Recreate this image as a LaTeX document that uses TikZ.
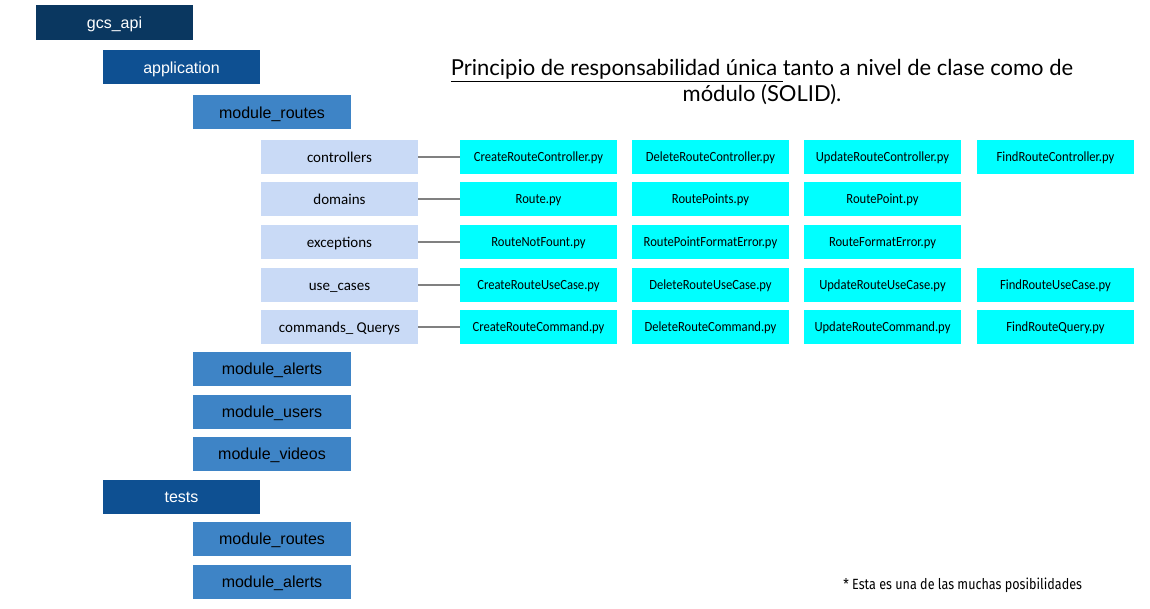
\documentclass[tikz,border=0pt]{standalone}
\usepackage{fontspec}
\setmainfont{Liberation Sans}
\newfontfamily\calfont{Carlito}
\newfontfamily\narrowcal[FakeStretch=0.9]{Carlito}
\newfontfamily\titlefont{Lato}
\newfontfamily\notefont[FakeStretch=0.85]{Fira Sans}
\usetikzlibrary{positioning}
\definecolor{navy}{RGB}{10,55,96}
\definecolor{midblue}{RGB}{14,80,146}
\definecolor{modblue}{RGB}{62,132,198}
\definecolor{paleblue}{RGB}{201,218,246}
\definecolor{filecyan}{RGB}{0,255,255}
\tikzset{
	box/.style={minimum width=117.75pt, minimum height=25.5pt, inner sep=0pt, text height=0.94em, text depth=0.06em, font=\fontsize{12}{14}\selectfont},
	rootbox/.style={box, fill=navy, text=white, minimum height=26.25pt},
	pkgbox/.style={box, fill=midblue, text=white},
	modbox/.style={box, fill=modblue, text=black, minimum width=118.5pt},
	dirbox/.style={box, fill=paleblue, font=\calfont\fontsize{11.25}{13}\selectfont},
	filebox/.style={box, fill=filecyan, text height=0.84em, text depth=0.16em, font=\narrowcal\fontsize{10.5}{12}\selectfont},
	link/.style={draw=black!50, line width=1pt}
}

\begin{document}
\begin{tikzpicture}[x=0.75pt, y=-0.75pt]
		%%%%% START %%%%%
		\useasboundingbox (0,0) rectangle (1150,609);
		
		\node[rootbox] (gcsapi) at (114.5, 22.5) {gcs\_api};
		\node[pkgbox] (application) at (181.5, 67.5) {application};
		\node[modbox] (routes) at (272, 112.5) {module\_routes};
		
		\node[dirbox] (controllers) at (339.5, 157) {controllers};
		\node[dirbox] (domains) at (339.5, 199) {domains};
		\node[dirbox] (exceptions) at (339.5, 242) {exceptions};
		\node[dirbox] (usecases) at (339.5, 285) {use\_cases};
		\node[dirbox] (commands) at (339.5, 327) {commands\_ Querys};
		
		\node[modbox] (alerts) at (272, 369) {module\_alerts};
		\node[modbox] (users) at (272, 412) {module\_users};
		\node[modbox] (videos) at (272, 454) {module\_videos};
		
		\node[pkgbox] (tests) at (181.5, 497) {tests};
		\node[modbox] (testroutes) at (272, 539) {module\_routes};
		\node[modbox] (testalerts) at (272, 582) {module\_alerts};
		
		% controllers
		\node[filebox] (ctrlcreate) at (538.5, 157) {CreateRouteController.py};
		\node[filebox] (ctrldelete) at (710.5, 157) {DeleteRouteController.py};
		\node[filebox] (ctrlupdate) at (882.5, 157) {UpdateRouteController.py};
		\node[filebox] (ctrlfind) at (1055.5, 157) {FindRouteController.py};
		
		% domains
		\node[filebox] (domroute) at (538.5, 199) {Route.py};
		\node[filebox] (dompoints) at (710.5, 199) {RoutePoints.py};
		\node[filebox] (dompoint) at (882.5, 199) {RoutePoint.py};
		
		% exceptions
		\node[filebox] (excnotfount) at (538.5, 242) {RouteNotFount.py};
		\node[filebox] (excpoint) at (710.5, 242) {RoutePointFormatError.py};
		\node[filebox] (excformat) at (882.5, 242) {RouteFormatError.py};
		
		% use cases
		\node[filebox] (uccreate) at (538.5, 285) {CreateRouteUseCase.py};
		\node[filebox] (ucdelete) at (710.5, 285) {DeleteRouteUseCase.py};
		\node[filebox] (ucupdate) at (882.5, 285) {UpdateRouteUseCase.py};
		\node[filebox] (ucfind) at (1055.5, 285) {FindRouteUseCase.py};
		
		% commands and querys
		\node[filebox] (cmdcreate) at (538.5, 327) {CreateRouteCommand.py};
		\node[filebox] (cmddelete) at (710.5, 327) {DeleteRouteCommand.py};
		\node[filebox] (cmdupdate) at (882.5, 327) {UpdateRouteCommand.py};
		\node[filebox] (qryfind) at (1055.5, 327) {FindRouteQuery.py};
		
		\draw[link] (controllers) -- (ctrlcreate);
		\draw[link] (domains) -- (domroute);
		\draw[link] (exceptions) -- (excnotfount);
		\draw[link] (usecases) -- (uccreate);
		\draw[link] (commands) -- (cmdcreate);
		
		\node[align=center, font=\titlefont\fontsize{16.5}{19.5}\selectfont] (title) at (762, 82)
			{\underline{Principio de responsabilidad única\ }tanto a nivel de clase como de\\ módulo (SOLID).};
		
		\node[anchor=west, inner sep=0pt, font=\notefont\fontsize{11.1}{13}\selectfont] (note) at (843, 585)
			{* Esta es una de las muchas posibilidades};
		
		%%%%% END %%%%%
	\end{tikzpicture}
\end{document}
